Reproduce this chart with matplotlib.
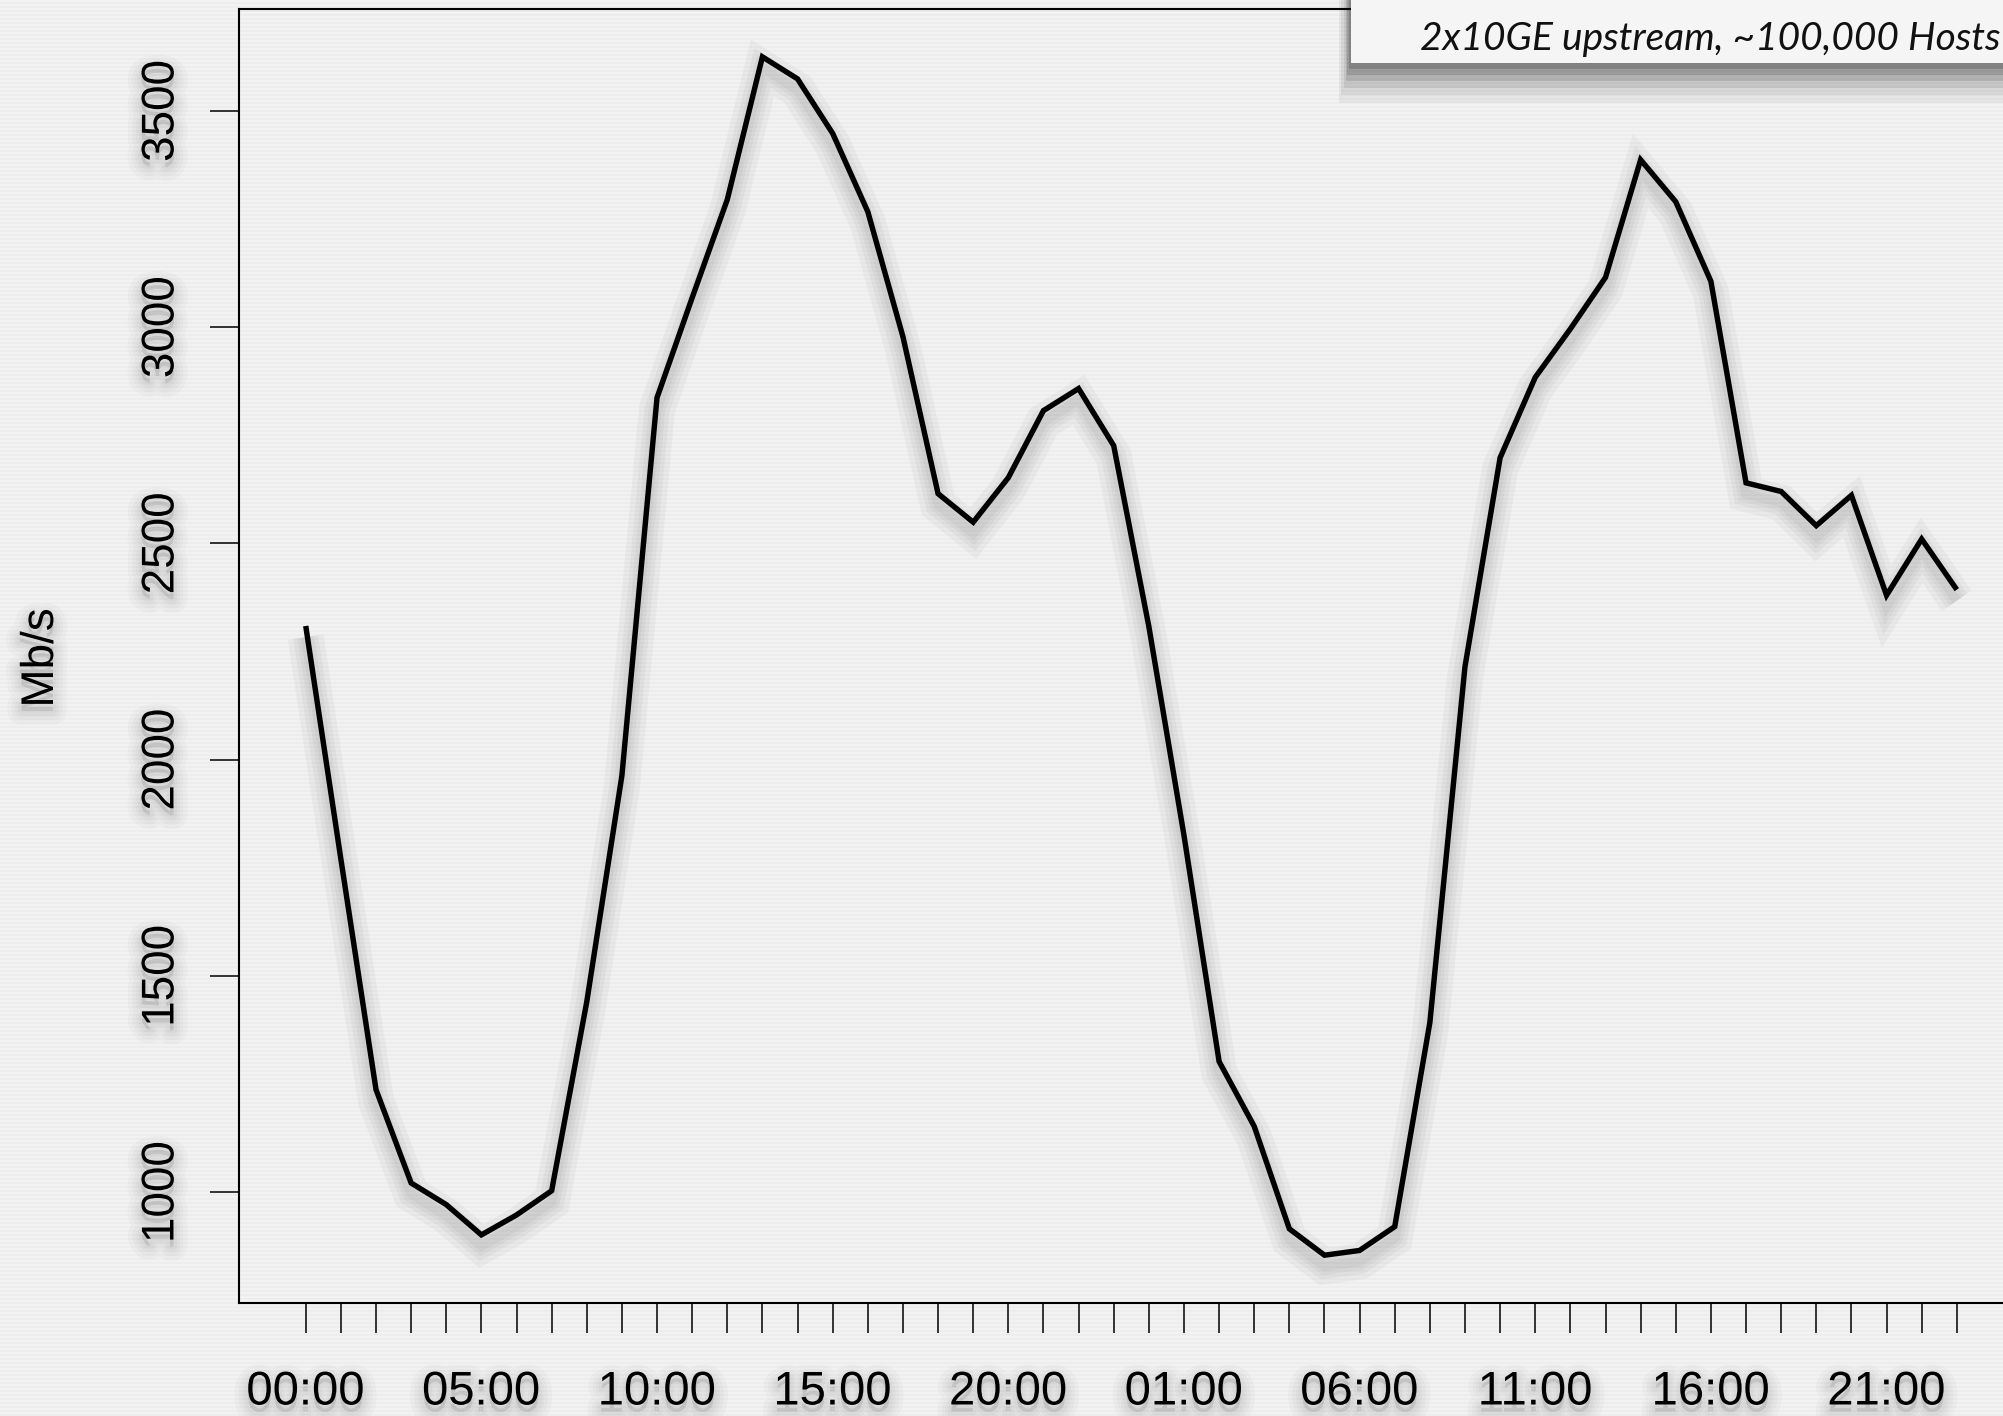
import numpy as np
import matplotlib
matplotlib.use("Agg")
import matplotlib.pyplot as plt
import matplotlib.patheffects as pe
from matplotlib.patches import Rectangle

# ---------------- data ----------------
hours = list(range(48))
traffic_mbps = [2309, 1770, 1237, 1021, 971, 901, 947, 1003, 1440, 1963,
                2837, 3068, 3295, 3625, 3574, 3448, 3267, 2978, 2615, 2549,
                2652, 2807, 2858, 2726, 2308, 1825, 1302, 1152, 915, 854,
                865, 920, 1392, 2215, 2698, 2884, 2996, 3115, 3387, 3290,
                3106, 2640, 2620, 2541, 2611, 2380, 2510, 2393]
label_hours = [0, 5, 10, 15, 20, 25, 30, 35, 40, 45]
label_texts = ["00:00", "05:00", "10:00", "15:00", "20:00",
               "01:00", "06:00", "11:00", "16:00", "21:00"]
y_ticks = [1000, 1500, 2000, 2500, 3000, 3500]
y_label = "Mb/s"
note_text = "2x10GE upstream, ~100,000 Hosts"

W, H = 2003, 1416
fig = plt.figure(figsize=(W / 100, H / 100), dpi=100)

# pinstriped light-grey slide background
rows = np.arange(H)
shade = np.where((rows % 4) < 2, 0.952, 0.930)
bg = np.repeat(shade[:, None], W, axis=1)
bg_rgb = np.dstack([bg, bg, bg])
fig.figimage(bg_rgb, xo=0, yo=0, zorder=-10)


def shadow_fx(widths, alpha, off):
    fx = [pe.SimpleLineShadow(offset=off, shadow_color="black", alpha=alpha,
                              linewidth=w) for w in widths]
    return fx + [pe.Normal()]


def text_fx():
    fx = [pe.Stroke(offset=(0, -5), linewidth=w, foreground="black", alpha=0.022)
          for w in (20, 14, 9, 5)]
    return fx + [pe.Normal()]


left, right, top, bottom = 239, 2013, 9, 1303
ax = fig.add_axes([left / W, (H - bottom) / H, (right - left) / W, (bottom - top) / H])
ax.set_zorder(1)
ax.patch.set_alpha(0)

ax.plot(hours, traffic_mbps, color="black", lw=3.9, solid_joinstyle="miter",
        solid_capstyle="butt",
        path_effects=shadow_fx((26, 18, 12, 7), 0.035, (0, -8)))

ax.set_xlim(-1.9, 48.6)
ax.set_ylim(743.5, 3735.7)

ax.set_xticks(hours)
ax.set_xticklabels([label_texts[label_hours.index(h)] if h in label_hours else ""
                    for h in hours])
ax.set_yticks(y_ticks)
ax.set_yticklabels([str(v) for v in y_ticks])

for sp in ax.spines.values():
    sp.set_linewidth(1.5)
    sp.set_color("black")

ax.tick_params(axis="x", direction="out", length=21.6, width=1.1, pad=27,
               labelsize=34, colors="black")
ax.tick_params(axis="y", direction="out", length=21, width=1.1, pad=19,
               labelsize=33, labelrotation=90, colors="black")
for lab in ax.get_xticklabels() + ax.get_yticklabels():
    lab.set_fontfamily(["Liberation Sans", "DejaVu Sans"])
    lab.set_path_effects(text_fx())
for lab in ax.get_yticklabels():
    lab.set_va("center")

fig.text(41 / W, 1 - 658 / H, y_label, rotation=90, ha="center", va="center",
         fontsize=33, family=["Liberation Sans", "DejaVu Sans"],
         path_effects=text_fx())

# note box in top-right corner with drop shadow
bx0, by0 = 1351, 63
for d, a in ((40, 0.05), (32, 0.06), (25, 0.08), (18, 0.10), (12, 0.12), (6, 0.15)):
    fig.patches.append(Rectangle(((bx0 - d * 0.3) / W, (H - by0 - d) / H),
                                 (W + 20 - bx0) / W, (by0 + d + 20) / H,
                                 transform=fig.transFigure, facecolor="black",
                                 edgecolor="none", alpha=a, zorder=5))
fig.patches.append(Rectangle((bx0 / W, (H - by0) / H), (W - bx0 + 10) / W,
                             (by0 + 10) / H, transform=fig.transFigure,
                             facecolor="#f5f5f5", edgecolor="none", zorder=6))
fig.text(2001 / W, 1 - 50 / H, note_text, ha="right", va="baseline",
         fontsize=28, style="italic", family=["Lato", "DejaVu Sans"],
         color="#111111", zorder=7)

fig.savefig("out.png", dpi=100)
